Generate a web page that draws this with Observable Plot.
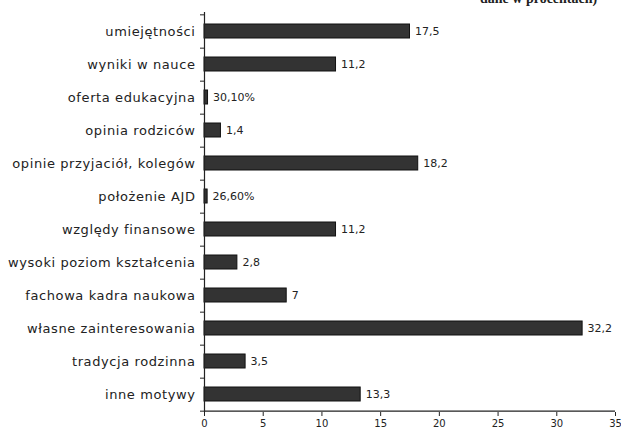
<!DOCTYPE html>
<html><head><meta charset="utf-8">
<script src="https://cdn.jsdelivr.net/npm/d3@7"></script>
<script src="https://cdn.jsdelivr.net/npm/@observablehq/plot@0.6"></script>
<style>
body{margin:0;background:#fff;overflow:hidden;}
#wrap{position:relative;width:621px;height:434px;}
#hdr{position:absolute;left:480px;top:-9px;font-family:"Liberation Serif",serif;font-weight:bold;font-size:14px;color:#222;white-space:nowrap;}
g[aria-label="y-axis tick label"] text{letter-spacing:0.6px;}
</style></head>
<body><div id="wrap"><div id="hdr">dane w procentach)</div><div id="chart"></div></div>
<script>
const categories = ["umiejętności","wyniki w nauce","oferta edukacyjna","opinia rodziców","opinie przyjaciół, kolegów","położenie AJD","względy finansowe","wysoki poziom kształcenia","fachowa kadra naukowa","własne zainteresowania","tradycja rodzinna","inne motywy"];
const values = [17.5, 11.2, 0.301, 1.4, 18.2, 0.266, 11.2, 2.8, 7, 32.2, 3.5, 13.3];
const valueLabels = ["17,5","11,2","30,10%","1,4","18,2","26,60%","11,2","2,8","7","32,2","3,5","13,3"];
const xTicks = [0,5,10,15,20,25,30,35];

const data = categories.map((c,i)=>({cat:c, v:values[i], lab:valueLabels[i]}));
const W=621, H=434, mT=12, mB=22;
const step = (H-mT-mB)/categories.length;

const chart = Plot.plot({
  width: W, height: H,
  marginLeft: 204, marginRight: 6, marginTop: mT, marginBottom: mB,
  style: {fontFamily: "'DejaVu Sans', Verdana, sans-serif", background: "transparent"},
  x: {domain: [0,35], ticks: xTicks, tickFormat: d=>d, label: null},
  y: {domain: categories, paddingInner: 0.58, paddingOuter: 0.29, label: null},
  marks: [
    Plot.barX(data, {y:"cat", x:"v", fill:"#333", stroke:"#111", strokeWidth:1}),
    Plot.text(data, {y:"cat", x:"v", text:"lab", dx:5, textAnchor:"start", fontSize:11, fill:"#222"}),
    Plot.ruleX([0], {stroke:"#222", strokeWidth:1.2}),
    Plot.ruleY(categories, {y:d=>d, x1:0, x2:0, dy:step/2, insetLeft:-4, stroke:"#222"}),
    Plot.ruleY([categories[0]], {y:d=>d, x1:0, x2:0, dy:-step/2, insetLeft:-4, stroke:"#222"}),
    Plot.ruleY([categories[categories.length-1]], {y:d=>d, x1:0, x2:35, dy:step/2, stroke:"#222", strokeWidth:1.2}),
    Plot.axisX({anchor:"bottom", ticks:xTicks, tickSize:4, tickPadding:3, fontSize:10, stroke:"#222", fill:"#222", label:null}),
    Plot.axisY({anchor:"left", tickSize:0, tickPadding:9, fontSize:13, fill:"#222", label:null})
  ]
});
document.getElementById("chart").appendChild(chart);
</script>
</body></html>
